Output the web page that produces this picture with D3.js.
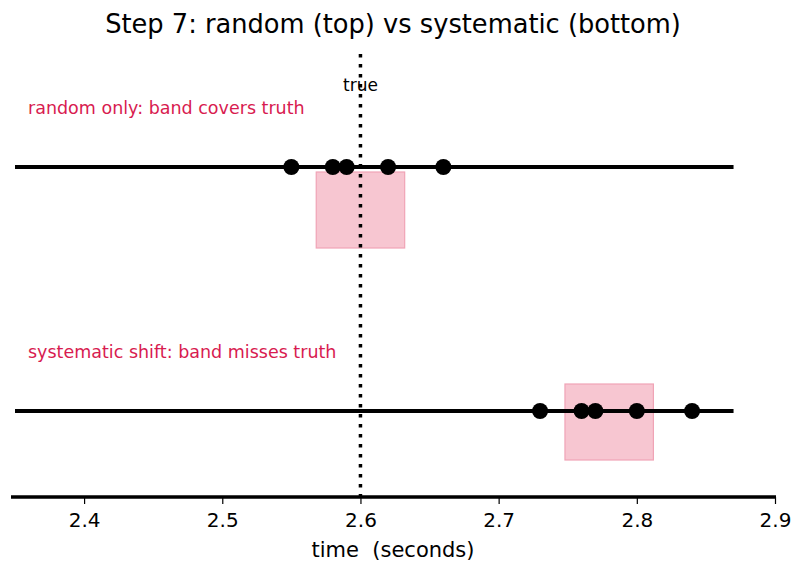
<!DOCTYPE html>
<html>
<head>
<meta charset="utf-8">
<script src="https://cdn.jsdelivr.net/npm/d3@7"></script>
<style>
  body { margin: 0; background: #fff; }
  text { font-family: "DejaVu Sans", sans-serif; }
</style>
</head>
<body>
<div id="chart"></div>
<script>
// data
const rows = ["random only: band covers truth", "systematic shift: band misses truth"];
const randomTimes = [2.55, 2.58, 2.59, 2.62, 2.66];
const systematicTimes = [2.73, 2.76, 2.77, 2.80, 2.84];
const trueValue = 2.6;
const bandHalf = 0.032;
const tickValues = [2.4, 2.5, 2.6, 2.7, 2.8, 2.9];
const xDomain = [2.35, 2.9];
const lineEnd = 2.87;

const width = 804, height = 573;

let svg = d3.select('#chart')
    .append('svg')
    .attr('width', width)
    .attr('height', height);

let x = d3.scaleLinear().domain(xDomain).range([15, 775]);
// row positions (0 = top row, 1 = bottom row)
let y = d3.scaleLinear().domain([0, 1]).range([167, 411]);

const series = [randomTimes, systematicTimes];
// band vertical extents relative to each row line
const bandOffsets = [[5, 81], [-27, 49]];

// title
svg.append('text')
    .attr('x', 393).attr('y', 33)
    .attr('text-anchor', 'middle')
    .style('font-size', '25.7px')
    .text('Step 7: random (top) vs systematic (bottom)');

// bands
series.forEach((vals, i) => {
    let m = d3.mean(vals);
    svg.append('rect')
        .attr('x', x(m - bandHalf))
        .attr('width', x(m + bandHalf) - x(m - bandHalf))
        .attr('y', y(i) + bandOffsets[i][0])
        .attr('height', bandOffsets[i][1] - bandOffsets[i][0])
        .attr('fill', 'rgb(247,198,209)')
        .attr('stroke', 'rgb(240,164,182)')
        .attr('stroke-width', 1.2);
});

// row lines + labels
series.forEach((vals, i) => {
    svg.append('line')
        .attr('x1', x(xDomain[0])).attr('x2', x(lineEnd))
        .attr('y1', y(i)).attr('y2', y(i))
        .attr('stroke', '#000')
        .attr('stroke-width', 4);
    svg.append('text')
        .attr('x', 28).attr('y', y(i) - 53)
        .attr('fill', '#d81b50')
        .style('font-size', '17.5px')
        .text(rows[i]);
});

// true value line
svg.append('line')
    .attr('x1', x(trueValue)).attr('x2', x(trueValue))
    .attr('y1', 54).attr('y2', 497)
    .attr('stroke', '#000')
    .attr('stroke-width', 3.5)
    .attr('stroke-dasharray', '3.5,6.5');

svg.append('text')
    .attr('x', x(trueValue)).attr('y', 91)
    .attr('text-anchor', 'middle')
    .style('font-size', '17px')
    .text('true');

// points
series.forEach((vals, i) => {
    svg.selectAll('.pt' + i)
        .data(vals)
        .enter()
        .append('circle')
        .attr('class', 'pt' + i)
        .attr('cx', d => x(d))
        .attr('cy', y(i))
        .attr('r', 8)
        .attr('fill', '#000');
});

// x axis
let axis = svg.append('g')
    .attr('transform', 'translate(0,497)')
    .call(d3.axisBottom(x).tickValues(tickValues).tickSize(7).tickPadding(9).tickFormat(d3.format('.1f')));
axis.select('.domain').remove();
axis.selectAll('.tick line').attr('stroke-width', 1.2);
axis.selectAll('text')
    .style('font-size', '20px')
    .attr('fill', '#000');
axis.append('line')
    .attr('x1', 11).attr('x2', 776)
    .attr('y1', 0).attr('y2', 0)
    .attr('stroke', '#000')
    .attr('stroke-width', 3.5);

svg.append('text')
    .attr('x', 393).attr('y', 557)
    .attr('text-anchor', 'middle')
    .attr('xml:space', 'preserve')
    .style('white-space', 'pre')
    .style('font-size', '21px')
    .text('time  (seconds)');
</script>
</body>
</html>
